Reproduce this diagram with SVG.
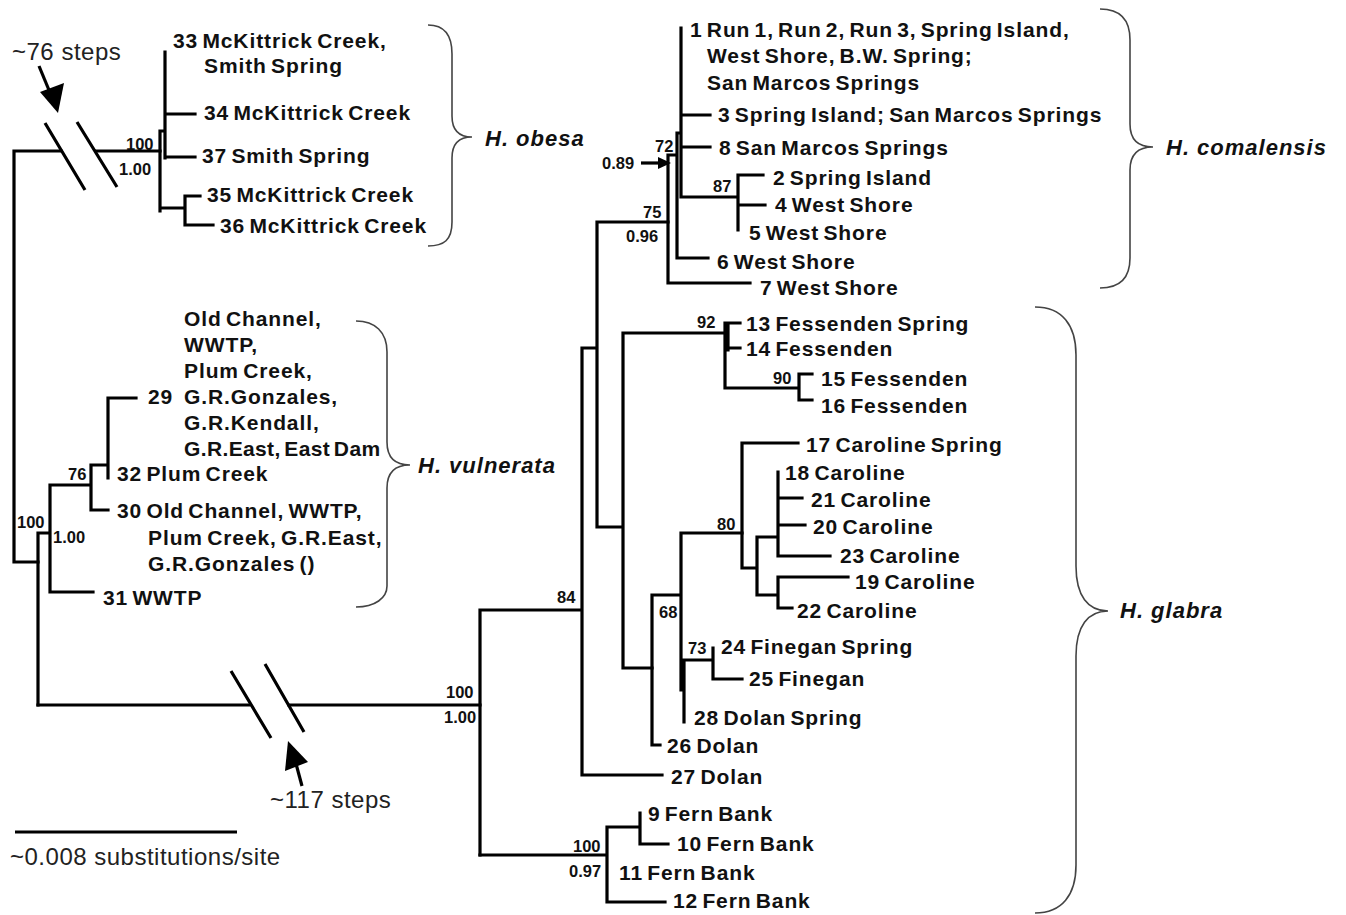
<svg xmlns="http://www.w3.org/2000/svg" width="1346" height="915" viewBox="0 0 1346 915">
<defs>
<style>
.br{fill:none;stroke:#000;stroke-width:3.2;stroke-linecap:square}
.sl{fill:none;stroke:#000;stroke-width:3.2}
.bc{fill:none;stroke:#444;stroke-width:1.6}
.t{font-family:"Liberation Sans",Arial,sans-serif;font-weight:bold;font-size:21px;letter-spacing:0.9px;word-spacing:-2.5px;fill:#111}
.s{font-family:"Liberation Sans",Arial,sans-serif;font-weight:bold;font-size:16.5px;fill:#111}
.sp{font-family:"Liberation Sans",Arial,sans-serif;font-weight:bold;font-style:italic;font-size:22px;letter-spacing:1px;fill:#111}
.n{font-family:"Liberation Sans",Arial,sans-serif;font-size:24px;letter-spacing:0.5px;fill:#222}
</style>
</defs>
<rect width="1346" height="915" fill="#fff"/>

<g id="connectors">
<!-- root -->
<path class="br" d="M14,151 V562 H38 M14,151 H61 M96,151 H160"/>
<!-- obesa -->
<path class="br" d="M160,131 V211 M160,131 H165 M165,52 V158 M167,114 H195 M165,157 H195 M160,208 H185 M185,196 V225 M185,196 H200 M185,225 H213"/>
<!-- vulnerata -->
<path class="br" d="M38,533 V705 M38,533 H50 M50,485 V592 M50,485 H91 M91,465 V510 M91,465 H108 M108,398 V478 M108,398 H136 M91,510 H108 M50,592 H93"/>
<!-- long branch -->
<path class="br" d="M38,705 H249 M289,705 H480"/>
<path class="br" d="M480,610 V855 M480,610 H582 M582,348 V775 M582,348 H597 M582,775 H662 M597,222 V527 M597,222 H668 M597,527 H623 M623,333 V668 M623,333 H725 M623,668 H652"/>
<!-- comalensis -->
<path class="br" d="M668,155 V283 M668,283 H750 M668,155 H677 M677,133 V258 M677,258 H708 M677,133 H681 M681,28 V197 M681,115 H710 M681,147 H710 M681,197 H738 M738,175 V230 M738,175 H763 M738,205 H765"/>
<!-- fessenden -->
<path class="br" d="M725,323 V388 M728,323 V350 M728,323 H740 M728,348 H740 M725,388 H799 M799,374 V400 M799,374 H812 M799,400 H812"/>
<!-- caroline / finegan / dolan -->
<path class="br" d="M652,595 V745 M652,745 H660 M652,595 H681 M681,533 V690 M684,660 V722 M681,690 H684 M681,533 H742 M684,660 H713 M713,648 V679 M713,679 H742"/>
<path class="br" d="M742,443 V568 M742,443 H798 M742,568 H757 M757,537 V595 M757,537 H778 M778,472 V556 M778,498 H802 M778,525 H805 M778,556 H830 M757,595 H778 M778,577 V608 M778,577 H848 M778,608 H792"/>
<!-- fern bank -->
<path class="br" d="M480,855 H607 M607,827 V902 M607,827 H640 M640,813 V844 M640,844 H668 M607,902 H665"/>
<!-- break marks -->
<path class="sl" d="M45,123 L85,190 M77,122 L117,187"/>
<path class="sl" d="M231,671 L271,738 M265,664 L304,732"/>
<!-- 0.89 pointer -->
<path class="sl" d="M641,163 H660" stroke-width="1.6"/>
<path d="M658,157 L671,163 L658,169 Z" fill="#000"/>
</g>

<g id="break-arrows">
<path class="sl" d="M39,66 L51,95" stroke-width="4.5"/>
<path d="M40,92 L64,83 L58,113 Z" fill="#000"/>
<path class="sl" d="M302,786 L295,760" stroke-width="4.5"/>
<path d="M288,741 L285,771 L308,762 Z" fill="#000"/>
<text class="n" x="12" y="60">~76 steps</text>
<text class="n" x="270" y="808">~117 steps</text>
</g>

<g id="scale-bar">
<path d="M15,832 H237" stroke="#000" stroke-width="3.2"/>
<text class="n" x="10" y="865">~0.008 substitutions/site</text>
</g>

<g id="support">
<text class="s" x="126" y="150">100</text>
<text class="s" x="119" y="175">1.00</text>
<text class="s" x="68" y="480">76</text>
<text class="s" x="17" y="528">100</text>
<text class="s" x="53" y="543">1.00</text>
<text class="s" x="446" y="698">100</text>
<text class="s" x="444" y="723">1.00</text>
<text class="s" x="557" y="603">84</text>
<text class="s" x="573" y="852">100</text>
<text class="s" x="569" y="877">0.97</text>
<text class="s" x="643" y="218">75</text>
<text class="s" x="626" y="242">0.96</text>
<text class="s" x="655" y="152">72</text>
<text class="s" x="602" y="169">0.89</text>
<text class="s" x="713" y="192">87</text>
<text class="s" x="697" y="328">92</text>
<text class="s" x="773" y="384">90</text>
<text class="s" x="717" y="530">80</text>
<text class="s" x="659" y="618">68</text>
<text class="s" x="688" y="654">73</text>
</g>

<g id="t33"><text class="t" x="173" y="48">33 McKittrick Creek,</text><text class="t" x="204" y="73">Smith Spring</text></g>
<g id="t34"><text class="t" x="204" y="120">34 McKittrick Creek</text></g>
<g id="t37"><text class="t" x="202" y="163">37 Smith Spring</text></g>
<g id="t35"><text class="t" x="207" y="202">35 McKittrick Creek</text></g>
<g id="t36"><text class="t" x="220" y="233">36 McKittrick Creek</text></g>

<g id="t29">
<text class="t" x="184" y="326">Old Channel,</text>
<text class="t" x="184" y="352">WWTP,</text>
<text class="t" x="184" y="378">Plum Creek,</text>
<text class="t" x="148" y="404">29</text>
<text class="t" x="184" y="404">G.R.Gonzales,</text>
<text class="t" x="184" y="430">G.R.Kendall,</text>
<text class="t" x="184" y="456" textLength="197">G.R.East, East Dam</text>
</g>
<g id="t32"><text class="t" x="117" y="481">32 Plum Creek</text></g>
<g id="t30">
<text class="t" x="117" y="518">30 Old Channel, WWTP,</text>
<text class="t" x="148" y="545">Plum Creek, G.R.East,</text>
<text class="t" x="148" y="571">G.R.Gonzales ()</text>
</g>
<g id="t31"><text class="t" x="103" y="605">31 WWTP</text></g>

<g id="t1">
<text class="t" x="690" y="37">1 Run 1, Run 2, Run 3, Spring Island,</text>
<text class="t" x="707" y="63">West Shore, B.W. Spring;</text>
<text class="t" x="707" y="90">San Marcos Springs</text>
</g>
<g id="t3"><text class="t" x="718" y="122">3 Spring Island; San Marcos Springs</text></g>
<g id="t8"><text class="t" x="719" y="155">8 San Marcos Springs</text></g>
<g id="t2"><text class="t" x="773" y="185">2 Spring Island</text></g>
<g id="t4"><text class="t" x="775" y="212">4 West Shore</text></g>
<g id="t5"><text class="t" x="749" y="240">5 West Shore</text></g>
<g id="t6"><text class="t" x="717" y="269">6 West Shore</text></g>
<g id="t7"><text class="t" x="760" y="295">7 West Shore</text></g>

<g id="t13"><text class="t" x="746" y="331">13 Fessenden Spring</text></g>
<g id="t14"><text class="t" x="746" y="356">14 Fessenden</text></g>
<g id="t15"><text class="t" x="821" y="386">15 Fessenden</text></g>
<g id="t16"><text class="t" x="821" y="413">16 Fessenden</text></g>
<g id="t17"><text class="t" x="806" y="452">17 Caroline Spring</text></g>
<g id="t18"><text class="t" x="785" y="480">18 Caroline</text></g>
<g id="t21"><text class="t" x="811" y="507">21 Caroline</text></g>
<g id="t20"><text class="t" x="813" y="534">20 Caroline</text></g>
<g id="t23"><text class="t" x="840" y="563">23 Caroline</text></g>
<g id="t19"><text class="t" x="855" y="589">19 Caroline</text></g>
<g id="t22"><text class="t" x="797" y="618">22 Caroline</text></g>
<g id="t24"><text class="t" x="721" y="654">24 Finegan Spring</text></g>
<g id="t25"><text class="t" x="749" y="686">25 Finegan</text></g>
<g id="t28"><text class="t" x="694" y="725">28 Dolan Spring</text></g>
<g id="t26"><text class="t" x="667" y="753">26 Dolan</text></g>
<g id="t27"><text class="t" x="671" y="784">27 Dolan</text></g>
<g id="t9"><text class="t" x="648" y="821">9 Fern Bank</text></g>
<g id="t10"><text class="t" x="677" y="851">10 Fern Bank</text></g>
<g id="t11"><text class="t" x="619" y="880">11 Fern Bank</text></g>
<g id="t12"><text class="t" x="673" y="908">12 Fern Bank</text></g>

<g id="clade-obesa">
<path class="bc" d="M428,25 C444,25 452,34 452,54 V116 C452,129 458,137 472,137 C458,137 452,145 452,158 V222 C452,240 444,246 428,246"/>
<text class="sp" x="485" y="146">H. obesa</text>
</g>
<g id="clade-vulnerata">
<path class="bc" d="M356,321 C375,321 387,332 387,352 V442 C387,457 395,465 410,465 C395,465 387,473 387,488 V586 C387,598 375,607 356,607"/>
<text class="sp" x="418" y="473">H. vulnerata</text>
</g>
<g id="clade-comalensis">
<path class="bc" d="M1100,9 C1120,9 1130,20 1130,40 V124 C1130,139 1138,147 1153,147 C1138,147 1130,155 1130,170 V258 C1130,278 1120,288 1100,288"/>
<text class="sp" x="1166" y="155">H. comalensis</text>
</g>
<g id="clade-glabra">
<path class="bc" d="M1035,307 C1062,307 1076,325 1076,355 V566 C1076,596 1088,611 1108,611 C1088,611 1076,626 1076,656 V865 C1076,895 1062,913 1035,913"/>
<text class="sp" x="1120" y="618">H. glabra</text>
</g>
</svg>
